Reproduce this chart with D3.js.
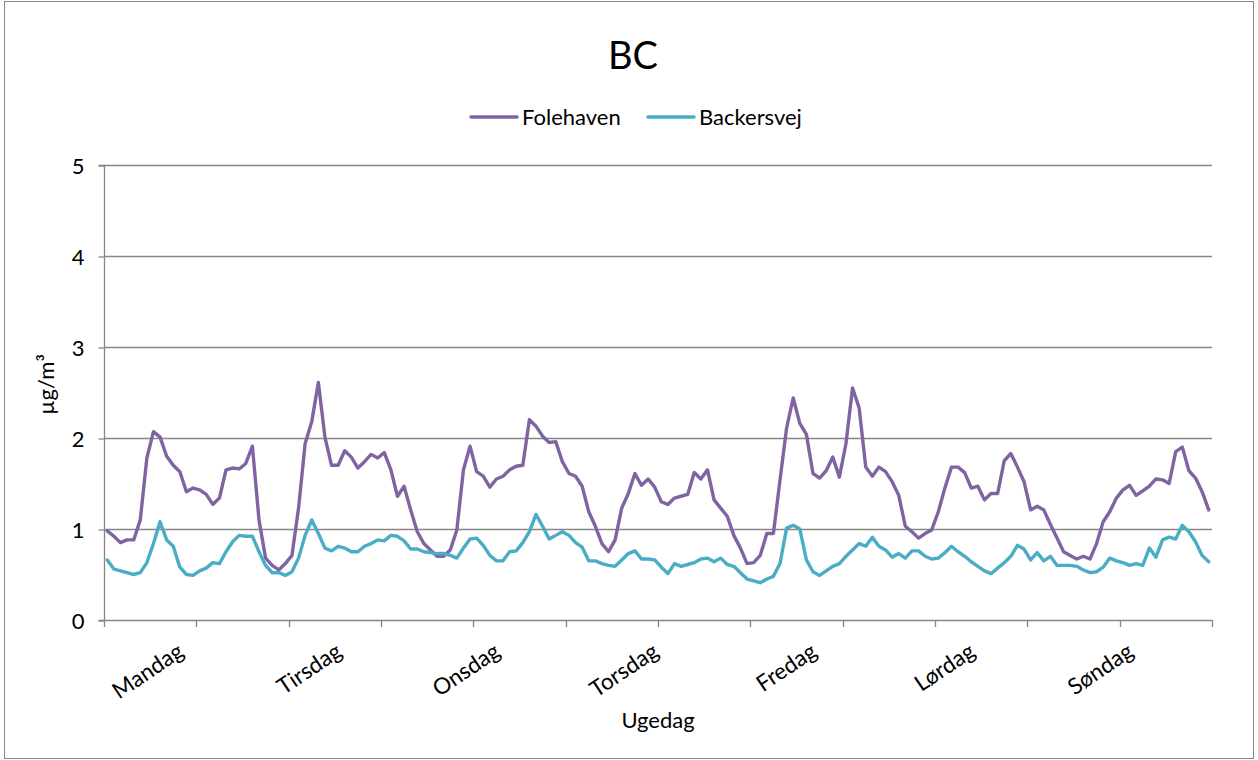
<!DOCTYPE html>
<html>
<head>
<meta charset="utf-8">
<script src="https://cdn.jsdelivr.net/npm/d3@7/dist/d3.min.js"></script>
<style>
  html, body { margin: 0; padding: 0; background: #fff; }
  svg { display: block; }
  text { font-family: Lato, "Open Sans", sans-serif; fill: #000; }
</style>
</head>
<body>
<svg id="chart" width="1258" height="760"></svg>
<script>
const title = "BC";
const xTitle = "Ugedag";
const yTitle = "µg/m³";
const days = ["Mandag", "Tirsdag", "Onsdag", "Torsdag", "Fredag", "Lørdag", "Søndag"];
const hoursPerDay = 24;
const yTicks = [0, 1, 2, 3, 4, 5];
const seriesNames = ["Folehaven", "Backersvej"];
const seriesColors = ["#8064A2", "#4BACC6"];

const folehaven = [
  0.98, 0.92, 0.85, 0.88, 0.88, 1.10, 1.78, 2.07, 2.01, 1.80, 1.70, 1.63, 1.41, 1.45, 1.43, 1.38, 1.27, 1.34, 1.65, 1.67, 1.66, 1.72, 1.91, 1.10,
  0.68, 0.60, 0.55, 0.62, 0.71, 1.23, 1.94, 2.18, 2.61, 2.01, 1.70, 1.70, 1.86, 1.79, 1.67, 1.74, 1.82, 1.78, 1.84, 1.65, 1.36, 1.47, 1.21, 0.97,
  0.84, 0.77, 0.70, 0.70, 0.77, 0.99, 1.65, 1.91, 1.63, 1.58, 1.46, 1.55, 1.58, 1.65, 1.69, 1.70, 2.20, 2.13, 2.02, 1.95, 1.96, 1.74, 1.61, 1.58,
  1.47, 1.19, 1.03, 0.84, 0.75, 0.88, 1.23, 1.39, 1.61, 1.48, 1.55, 1.46, 1.30, 1.27, 1.34, 1.36, 1.38, 1.62, 1.55, 1.65, 1.32, 1.23, 1.14, 0.93,
  0.79, 0.62, 0.63, 0.71, 0.95, 0.95, 1.54, 2.11, 2.44, 2.16, 2.04, 1.61, 1.56, 1.64, 1.79, 1.57, 1.94, 2.55, 2.33, 1.68, 1.58, 1.68, 1.63, 1.52,
  1.37, 1.03, 0.97, 0.90, 0.95, 0.99, 1.19, 1.45, 1.68, 1.68, 1.62, 1.45, 1.47, 1.32, 1.39, 1.39, 1.75, 1.83, 1.68, 1.52, 1.21, 1.25, 1.21, 1.05,
  0.90, 0.75, 0.71, 0.67, 0.70, 0.67, 0.84, 1.08, 1.19, 1.34, 1.43, 1.48, 1.37, 1.42, 1.47, 1.55, 1.54, 1.50, 1.85, 1.90, 1.64, 1.56, 1.41, 1.21
];
const backersvej = [
  0.66, 0.56, 0.54, 0.52, 0.50, 0.52, 0.63, 0.84, 1.08, 0.88, 0.81, 0.58, 0.50, 0.49, 0.54, 0.57, 0.63, 0.62, 0.75, 0.86, 0.93, 0.92, 0.92, 0.75,
  0.60, 0.52, 0.52, 0.49, 0.53, 0.68, 0.93, 1.10, 0.95, 0.79, 0.76, 0.81, 0.79, 0.75, 0.75, 0.81, 0.84, 0.88, 0.87, 0.93, 0.92, 0.87, 0.78, 0.78,
  0.75, 0.74, 0.73, 0.73, 0.71, 0.68, 0.79, 0.89, 0.90, 0.82, 0.71, 0.65, 0.65, 0.75, 0.76, 0.85, 0.97, 1.16, 1.03, 0.89, 0.93, 0.97, 0.93, 0.85,
  0.80, 0.65, 0.65, 0.62, 0.60, 0.59, 0.66, 0.73, 0.76, 0.67, 0.67, 0.66, 0.58, 0.51, 0.62, 0.59, 0.61, 0.63, 0.67, 0.68, 0.64, 0.68, 0.61, 0.59,
  0.52, 0.45, 0.43, 0.41, 0.45, 0.48, 0.62, 1.01, 1.04, 1.00, 0.66, 0.53, 0.49, 0.54, 0.59, 0.62, 0.70, 0.77, 0.84, 0.81, 0.91, 0.81, 0.77, 0.69,
  0.73, 0.68, 0.76, 0.76, 0.70, 0.67, 0.68, 0.74, 0.81, 0.75, 0.70, 0.64, 0.59, 0.54, 0.51, 0.57, 0.63, 0.70, 0.82, 0.78, 0.66, 0.74, 0.65, 0.70,
  0.60, 0.60, 0.60, 0.59, 0.55, 0.52, 0.53, 0.58, 0.68, 0.65, 0.63, 0.60, 0.62, 0.60, 0.79, 0.69, 0.88, 0.91, 0.89, 1.04, 0.97, 0.86, 0.71, 0.64
];
const allSeries = [folehaven, backersvej];

const svg = d3.select("#chart");
const plot = { left: 104, right: 1212, top: 165, bottom: 620 };
const axisColor = "#868686";

// chart border
svg.append("rect").attr("x", 4.5).attr("y", 1.5).attr("width", 1249).attr("height", 757)
  .attr("fill", "#fff").attr("stroke", axisColor).attr("stroke-width", 1);

const n = folehaven.length;
const idx = d3.range(n);
const x = d3.scaleBand().domain(idx).range([plot.left, plot.right]).paddingInner(0).paddingOuter(0);
const xc = i => x(i) + x.bandwidth() / 2;
const y = d3.scaleLinear().domain([0, 5]).range([plot.bottom, plot.top]);

// gridlines
svg.append("g").selectAll("line").data(yTicks.filter(t => t > 0)).join("line")
  .attr("x1", plot.left).attr("x2", plot.right)
  .attr("y1", d => Math.round(y(d)) + 0.5).attr("y2", d => Math.round(y(d)) + 0.5)
  .attr("stroke", axisColor).attr("stroke-width", 1.3);

// y axis
const yAxis = d3.axisLeft(y).tickValues(yTicks).tickSize(6).tickPadding(14).tickFormat(d3.format("d"));
const gy = svg.append("g").attr("transform", `translate(${plot.left + 0.5},0.5)`).call(yAxis);
gy.select(".domain").attr("stroke", axisColor).attr("stroke-width", 1.3).attr("d", `M-6,${plot.bottom}H0V${plot.top}H-6`);
gy.selectAll(".tick line").attr("stroke", axisColor).attr("stroke-width", 1.3);
gy.selectAll(".tick text").style("font-family", "Lato").style("font-size", "22px").attr("dy", "0.36em");

// x axis: tick marks every 14 categories at category boundaries
const tickEvery = 14;
const tickPos = d3.range(0, n + 1, tickEvery).map(i => i === n ? plot.right : x(i));
const gx = svg.append("g");
gx.append("line").attr("x1", plot.left).attr("x2", plot.right)
  .attr("y1", plot.bottom + 0.5).attr("y2", plot.bottom + 0.5)
  .attr("stroke", axisColor).attr("stroke-width", 1.3);
gx.selectAll("line.tk").data(tickPos).join("line").attr("class", "tk")
  .attr("x1", d => Math.round(d) + 0.5).attr("x2", d => Math.round(d) + 0.5)
  .attr("y1", plot.bottom).attr("y2", plot.bottom + 7)
  .attr("stroke", axisColor).attr("stroke-width", 1.3);

// day labels at hour 12 of each day
gx.selectAll("text.day").data(days).join("text").attr("class", "day")
  .attr("transform", (d, i) => `translate(${xc(i * hoursPerDay + 12) - 10},${plot.bottom + 22}) rotate(-34)`)
  .attr("text-anchor", "end")
  .attr("dy", "0.7em")
  .style("font-size", "22.5px")
  .text(d => d);

// lines
const line = d3.line().x((d, i) => xc(i)).y(d => y(d));
svg.append("g").selectAll("path").data(allSeries).join("path")
  .attr("d", d => line(d))
  .attr("fill", "none")
  .attr("stroke", (d, i) => seriesColors[i])
  .attr("stroke-width", 3.4)
  .attr("stroke-linejoin", "round")
  .attr("stroke-linecap", "round");

// title
svg.append("text").attr("x", 633).attr("y", 69).attr("text-anchor", "middle")
  .style("font-size", "38px").text(title);

// legend
const legendItems = [{ x: 471, name: seriesNames[0], color: seriesColors[0] },
                     { x: 648, name: seriesNames[1], color: seriesColors[1] }];
const lg = svg.append("g");
legendItems.forEach(it => {
  lg.append("line").attr("x1", it.x).attr("x2", it.x + 46).attr("y1", 117).attr("y2", 117)
    .attr("stroke", it.color).attr("stroke-width", 3.4).attr("stroke-linecap", "round");
  lg.append("text").attr("x", it.x + 51).attr("y", 117).attr("dy", "0.36em")
    .style("font-size", "22px").text(it.name);
});

// axis titles
svg.append("text").attr("x", (plot.left + plot.right) / 2).attr("y", 728).attr("text-anchor", "middle")
  .style("font-size", "22px").text(xTitle);
svg.append("text").attr("transform", `translate(54,${(plot.top + plot.bottom) / 2 - 8}) rotate(-90)`)
  .attr("text-anchor", "middle").style("font-size", "22px").text(yTitle);
</script>
</body>
</html>
